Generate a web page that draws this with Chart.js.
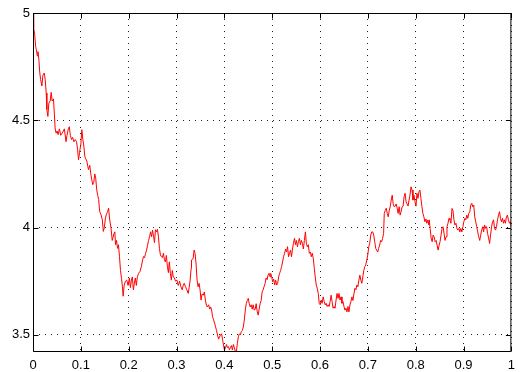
<!DOCTYPE html>
<html>
<head>
<meta charset="utf-8">
<script src="https://cdn.jsdelivr.net/npm/chart.js@4/dist/chart.umd.min.js"></script>
<style>
  html, body { margin: 0; padding: 0; background: #fff; }
  #plot { display: block; }
</style>
</head>
<body>
<canvas id="plot" width="521" height="372"></canvas>
<script>
// Sample times of the path (0 .. 1)
const tValues = [
  0, 0.0014, 0.0035, 0.0055, 0.0069, 0.0090, 0.0104, 0.0124, 0.0138, 0.0159, 0.0186, 0.0207, 0.0235, 0.0255, 0.0276, 0.0290, 0.0311, 0.0331, 0.0359, 0.0380,
  0.0400, 0.0428, 0.0449, 0.0462, 0.0483, 0.0504, 0.0525, 0.0552, 0.0580, 0.0607, 0.0635, 0.0656, 0.0690, 0.0711, 0.0738, 0.0759, 0.0780, 0.0807, 0.0828, 0.0856,
  0.0883, 0.0911, 0.0932, 0.0952, 0.0973, 0.1001, 0.1021, 0.1042, 0.1063, 0.1084, 0.1104, 0.1125, 0.1146, 0.1159, 0.1187, 0.1208, 0.1228, 0.1249, 0.1270, 0.1291,
  0.1311, 0.1332, 0.1353, 0.1373, 0.1394, 0.1422, 0.1449, 0.1470, 0.1491, 0.1511, 0.1532, 0.1560, 0.1580, 0.1601, 0.1629,
  0.1656, 0.1691, 0.1711, 0.1725, 0.1746, 0.1767, 0.1787, 0.1808, 0.1829, 0.1850, 0.1870, 0.1884, 0.1905, 0.1932, 0.1960, 0.1988, 0.2015, 0.2036, 0.2057, 0.2077,
  0.2098, 0.2119, 0.2139, 0.2160, 0.2181, 0.2208, 0.2236, 0.2264, 0.2291, 0.2312, 0.2333, 0.2353, 0.2374, 0.2395, 0.2416, 0.2436, 0.2457, 0.2478, 0.2498, 0.2519,
  0.2540, 0.2560, 0.2581, 0.2602, 0.2622, 0.2643, 0.2664, 0.2685, 0.2705, 0.2726, 0.2747, 0.2767, 0.2788, 0.2809, 0.2830, 0.2850, 0.2871, 0.2892, 0.2912, 0.2933,
  0.2954, 0.2981, 0.3009, 0.3037, 0.3064, 0.3092, 0.3119, 0.3140, 0.3161, 0.3188, 0.3216, 0.3244, 0.3264, 0.3285, 0.3306,
  0.3313, 0.3347, 0.3368, 0.3388, 0.3409, 0.3430, 0.3451, 0.3471, 0.3492, 0.3513, 0.3533, 0.3561, 0.3582, 0.3603, 0.3623, 0.3644, 0.3672, 0.3692, 0.3713, 0.3734,
  0.3754, 0.3775, 0.3796, 0.3816, 0.3837, 0.3858, 0.3879, 0.3899, 0.3920, 0.3941, 0.3961, 0.3982, 0.4003, 0.4023, 0.4044, 0.4065, 0.4086, 0.4106, 0.4127, 0.4148,
  0.4168, 0.4189, 0.4210, 0.4231, 0.4251, 0.4272, 0.4293, 0.4313, 0.4334, 0.4355, 0.4375, 0.4396, 0.4417, 0.4438, 0.4458, 0.4479, 0.4500, 0.4520, 0.4541, 0.4562,
  0.4582, 0.4603, 0.4624, 0.4645, 0.4665, 0.4686, 0.4707, 0.4727, 0.4748, 0.4769, 0.4790, 0.4810, 0.4831, 0.4852, 0.4872, 0.4893, 0.4914, 0.4934, 0.4955,
  0.4969, 0.4990, 0.5010, 0.5031, 0.5052, 0.5072, 0.5093, 0.5114, 0.5135, 0.5155, 0.5176, 0.5197, 0.5217, 0.5238, 0.5259, 0.5280, 0.5300, 0.5321, 0.5342, 0.5362,
  0.5383, 0.5404, 0.5424, 0.5445, 0.5466, 0.5487, 0.5507, 0.5528, 0.5549, 0.5569, 0.5590, 0.5611, 0.5631, 0.5652, 0.5673, 0.5694, 0.5714, 0.5735, 0.5756, 0.5776,
  0.5797, 0.5818, 0.5838, 0.5859, 0.5880, 0.5900, 0.5921, 0.5942, 0.5963, 0.5983, 0.6004, 0.6025, 0.6045, 0.6066, 0.6087, 0.6107, 0.6128, 0.6149, 0.6170, 0.6190,
  0.6211, 0.6232, 0.6252, 0.6273, 0.6294, 0.6314, 0.6335, 0.6356, 0.6377, 0.6397, 0.6418, 0.6439, 0.6459, 0.6480, 0.6501, 0.6521, 0.6542, 0.6563, 0.6584, 0.6604,
  0.6625, 0.6646, 0.6667, 0.6687, 0.6708, 0.6729, 0.6749, 0.6770, 0.6791, 0.6812, 0.6832, 0.6853, 0.6874, 0.6894, 0.6915, 0.6936, 0.6956, 0.6977, 0.6998, 0.7019,
  0.7039, 0.7060, 0.7081, 0.7101, 0.7122, 0.7143, 0.7164, 0.7184, 0.7205, 0.7226, 0.7246, 0.7267, 0.7288, 0.7308, 0.7329,
  0.7343, 0.7364, 0.7384, 0.7405, 0.7426, 0.7447, 0.7467, 0.7488, 0.7509, 0.7529, 0.7550, 0.7571, 0.7591, 0.7612, 0.7633, 0.7654, 0.7674, 0.7695, 0.7716, 0.7736,
  0.7757, 0.7778, 0.7799, 0.7819, 0.7840, 0.7861, 0.7881, 0.7902, 0.7923, 0.7943, 0.7964, 0.7985, 0.8006, 0.8026, 0.8047, 0.8068, 0.8088, 0.8109, 0.8130, 0.8150,
  0.8171, 0.8192, 0.8213, 0.8233, 0.8254, 0.8275,
  0.8282, 0.8302, 0.8323, 0.8344, 0.8364, 0.8385, 0.8406, 0.8427, 0.8447, 0.8468, 0.8489, 0.8509, 0.8530, 0.8551, 0.8571, 0.8592, 0.8613, 0.8634, 0.8654, 0.8675,
  0.8696, 0.8716, 0.8737, 0.8758, 0.8779, 0.8799, 0.8820, 0.8841, 0.8861, 0.8882, 0.8903, 0.8923, 0.8944, 0.8965, 0.8986, 0.9006, 0.9027, 0.9048, 0.9068, 0.9089,
  0.9110, 0.9131, 0.9151, 0.9172, 0.9193, 0.9213, 0.9234, 0.9255, 0.9275, 0.9296, 0.9317, 0.9338, 0.9358, 0.9379, 0.9400, 0.9420, 0.9441, 0.9462, 0.9482, 0.9503,
  0.9524, 0.9545, 0.9565, 0.9586, 0.9607, 0.9627, 0.9648, 0.9669, 0.9689, 0.9710, 0.9731, 0.9752, 0.9772, 0.9793, 0.9814, 0.9834, 0.9855, 0.9876, 0.9896, 0.9917,
  0.9938, 0.9959, 0.9979, 1.0
];

// Path values at those times
const pathValues = [
  5.00, 4.93, 4.90, 4.845, 4.83, 4.80, 4.82, 4.78, 4.73, 4.69, 4.66, 4.71, 4.72, 4.69, 4.627, 4.55, 4.518, 4.58, 4.59, 4.63,
  4.59, 4.60, 4.52, 4.464, 4.44, 4.45, 4.433, 4.46, 4.43, 4.44, 4.45, 4.46, 4.40, 4.43, 4.46, 4.47, 4.43, 4.41, 4.42, 4.40,
  4.41, 4.40, 4.363, 4.316, 4.35, 4.39, 4.456, 4.41, 4.38, 4.33, 4.32, 4.31, 4.285, 4.27, 4.29, 4.25, 4.223, 4.20, 4.21, 4.25,
  4.23, 4.176, 4.15, 4.13, 4.075, 4.06, 4.036, 3.982, 4.00, 4.04, 4.06, 4.075, 4.09, 4.04, 4.00,
  3.94, 3.97, 3.98, 3.92, 3.94, 3.903, 3.92, 3.864, 3.80, 3.763, 3.724, 3.68, 3.73, 3.75, 3.755, 3.73, 3.765, 3.72, 3.755, 3.77,
  3.71, 3.74, 3.765, 3.73, 3.77, 3.787, 3.795, 3.817, 3.849, 3.865, 3.86, 3.88, 3.895, 3.918, 3.94, 3.957, 3.98, 3.957, 3.988, 3.96,
  3.93, 3.99, 3.98, 3.992, 3.957, 3.903, 3.872, 3.864, 3.86, 3.88, 3.85, 3.84, 3.87, 3.82, 3.79, 3.84, 3.787, 3.755, 3.80, 3.77,
  3.765, 3.75, 3.755, 3.73, 3.75, 3.724, 3.71, 3.73, 3.74, 3.724, 3.71, 3.693, 3.72, 3.755, 3.81,
  3.849, 3.855, 3.895, 3.88, 3.83, 3.755, 3.724, 3.74, 3.71, 3.662, 3.69, 3.685, 3.70, 3.662, 3.639, 3.63, 3.64, 3.62, 3.63, 3.615,
  3.584, 3.57, 3.555, 3.537, 3.52, 3.499, 3.48, 3.49, 3.50, 3.505, 3.48, 3.452, 3.429, 3.44, 3.455, 3.44, 3.445, 3.43, 3.44, 3.45,
  3.43, 3.455, 3.44, 3.421, 3.421, 3.46, 3.491, 3.505, 3.50, 3.515, 3.52, 3.537, 3.569, 3.615, 3.645, 3.66, 3.67, 3.645, 3.63, 3.64,
  3.62, 3.64, 3.615, 3.62, 3.645, 3.61, 3.592, 3.62, 3.645, 3.66, 3.70, 3.71, 3.725, 3.74, 3.765, 3.757, 3.779, 3.787, 3.77,
  3.786, 3.77, 3.747, 3.76, 3.732, 3.755, 3.732, 3.74, 3.77, 3.786, 3.80, 3.818, 3.84, 3.864, 3.88, 3.90, 3.886, 3.911, 3.864, 3.88,
  3.895, 3.864, 3.90, 3.927, 3.95, 3.92, 3.94, 3.91, 3.935, 3.95, 3.92, 3.94, 3.927, 3.90, 3.94, 3.98, 3.927, 3.91, 3.92, 3.88,
  3.886, 3.864, 3.88, 3.856, 3.81, 3.77, 3.732, 3.717, 3.693, 3.647, 3.64, 3.662, 3.647, 3.677, 3.655, 3.64, 3.647, 3.632, 3.64, 3.632,
  3.655, 3.685, 3.655, 3.624, 3.632, 3.624, 3.662, 3.693, 3.67, 3.693, 3.662, 3.677, 3.647, 3.655, 3.632, 3.615, 3.624, 3.607, 3.632, 3.607,
  3.639, 3.655, 3.677, 3.66, 3.69, 3.717, 3.71, 3.732, 3.724, 3.755, 3.778, 3.755, 3.74, 3.77, 3.80, 3.818, 3.825, 3.849, 3.872, 3.911,
  3.927, 3.965, 3.98, 3.98, 3.965, 3.934, 3.903, 3.895, 3.886, 3.903, 3.918, 3.94, 3.934, 3.95, 3.973,
  4.066, 4.08, 4.09, 4.066, 4.05, 4.08, 4.097, 4.128, 4.151, 4.11, 4.097, 4.10, 4.11, 4.09, 4.066, 4.097, 4.058, 4.074, 4.097, 4.10,
  4.144, 4.16, 4.12, 4.11, 4.10, 4.128, 4.151, 4.19, 4.175, 4.128, 4.151, 4.12, 4.10, 4.16, 4.136, 4.167, 4.175, 4.136, 4.097, 4.066,
  4.05, 4.027, 4.04, 4.02, 4.035, 4.012,
  4.036, 3.996, 3.95, 3.934, 3.965, 3.957, 3.934, 3.94, 3.918, 3.895, 3.918, 3.934, 3.965, 3.996, 4.004, 3.973, 3.94, 3.957, 4.004, 4.02,
  4.043, 4.036, 4.02, 4.089, 4.08, 4.036, 4.012, 4.02, 3.996, 3.988, 3.996, 3.98, 3.996, 3.98, 4.004, 4.027, 4.043, 4.036, 4.058, 4.043,
  4.066, 4.074, 4.105, 4.113, 4.097, 4.105, 4.05, 4.027, 4.004, 3.98, 3.957, 3.94, 3.965, 3.988, 4.004, 3.98, 4.012, 3.996, 4.004, 3.973,
  3.95, 3.926, 3.965, 4.004, 4.027, 4.036, 3.996, 3.988, 4.004, 4.036, 4.058, 4.074, 4.043, 4.027, 4.043, 4.02, 4.036, 4.02, 4.05, 4.058,
  4.036, 4.02, 4.027, 4.004
];

// Axis ticks and their labels
const xTickValues = [0, 0.1, 0.2, 0.3, 0.4, 0.5, 0.6, 0.7, 0.8, 0.9, 1];
const xTickLabels = ['0', '0.1', '0.2', '0.3', '0.4', '0.5', '0.6', '0.7', '0.8', '0.9', '1'];
const yTickValues = [3.5, 4, 4.5, 5];
const yTickLabels = ['3.5', '4', '4.5', '5'];

const n = Math.min(tValues.length, pathValues.length);
const points = [];
for (let i = 0; i < n; i++) points.push({ x: tValues[i], y: pathValues[i] });

const FONT = { family: '"Liberation Sans", Arial, Helvetica, sans-serif', size: 13 };

// Solid box around the axes plus short inward tick marks on all four sides
const boxAndTicks = {
  id: 'boxAndTicks',
  afterDraw(chart) {
    const { ctx, chartArea: a, scales } = chart;
    const L = a.left + 0.5, R = a.right - 0.5, T = a.top + 0.5, B = a.bottom - 0.5;
    const len = 5;
    ctx.save();
    ctx.strokeStyle = '#000';
    ctx.lineWidth = 1;
    ctx.setLineDash([]);
    ctx.beginPath();
    ctx.rect(L, T, R - L, B - T);
    xTickValues.forEach(v => {
      const p = Math.round(scales.x.getPixelForValue(v)) + 0.5;
      ctx.moveTo(p, B); ctx.lineTo(p, B - len);
      ctx.moveTo(p, T); ctx.lineTo(p, T + len);
    });
    yTickValues.forEach(v => {
      const p = Math.round(scales.y.getPixelForValue(v)) + 0.5;
      ctx.moveTo(L, p); ctx.lineTo(L + len, p);
      ctx.moveTo(R, p); ctx.lineTo(R - len, p);
    });
    ctx.stroke();
    ctx.restore();
  }
};

new Chart(document.getElementById('plot'), {
  type: 'line',
  data: {
    datasets: [{
      data: points,
      borderColor: '#ff0000',
      borderWidth: 1,
      pointRadius: 0,
      tension: 0,
      fill: false
    }]
  },
  options: {
    responsive: false,
    animation: false,
    devicePixelRatio: 1,
    layout: { padding: { top: 13, right: 4, left: 0, bottom: 0 } },
    plugins: { legend: { display: false }, tooltip: { enabled: false } },
    scales: {
      x: {
        type: 'linear',
        min: 0,
        max: 1,
        afterBuildTicks: s => { s.ticks = xTickValues.map(v => ({ value: v })); },
        afterFit: s => { s.height = 20; },
        ticks: {
          autoSkip: false,
          maxRotation: 0,
          padding: 6,
          color: '#000',
          font: FONT,
          callback: (v, i) => xTickLabels[i]
        },
        grid: { color: '#222', lineWidth: 1, drawTicks: false },
        border: { display: false, dash: [1, 5] }
      },
      y: {
        type: 'linear',
        min: 3.42,
        max: 5,
        afterBuildTicks: s => { s.ticks = yTickValues.map(v => ({ value: v })); },
        afterFit: s => { s.width = 33; },
        ticks: {
          autoSkip: false,
          padding: 3,
          color: '#000',
          font: FONT,
          callback: (v, i) => yTickLabels[i]
        },
        grid: { color: '#222', lineWidth: 1, drawTicks: false },
        border: { display: false, dash: [1, 5] }
      }
    }
  },
  plugins: [boxAndTicks]
});
</script>
</body>
</html>
